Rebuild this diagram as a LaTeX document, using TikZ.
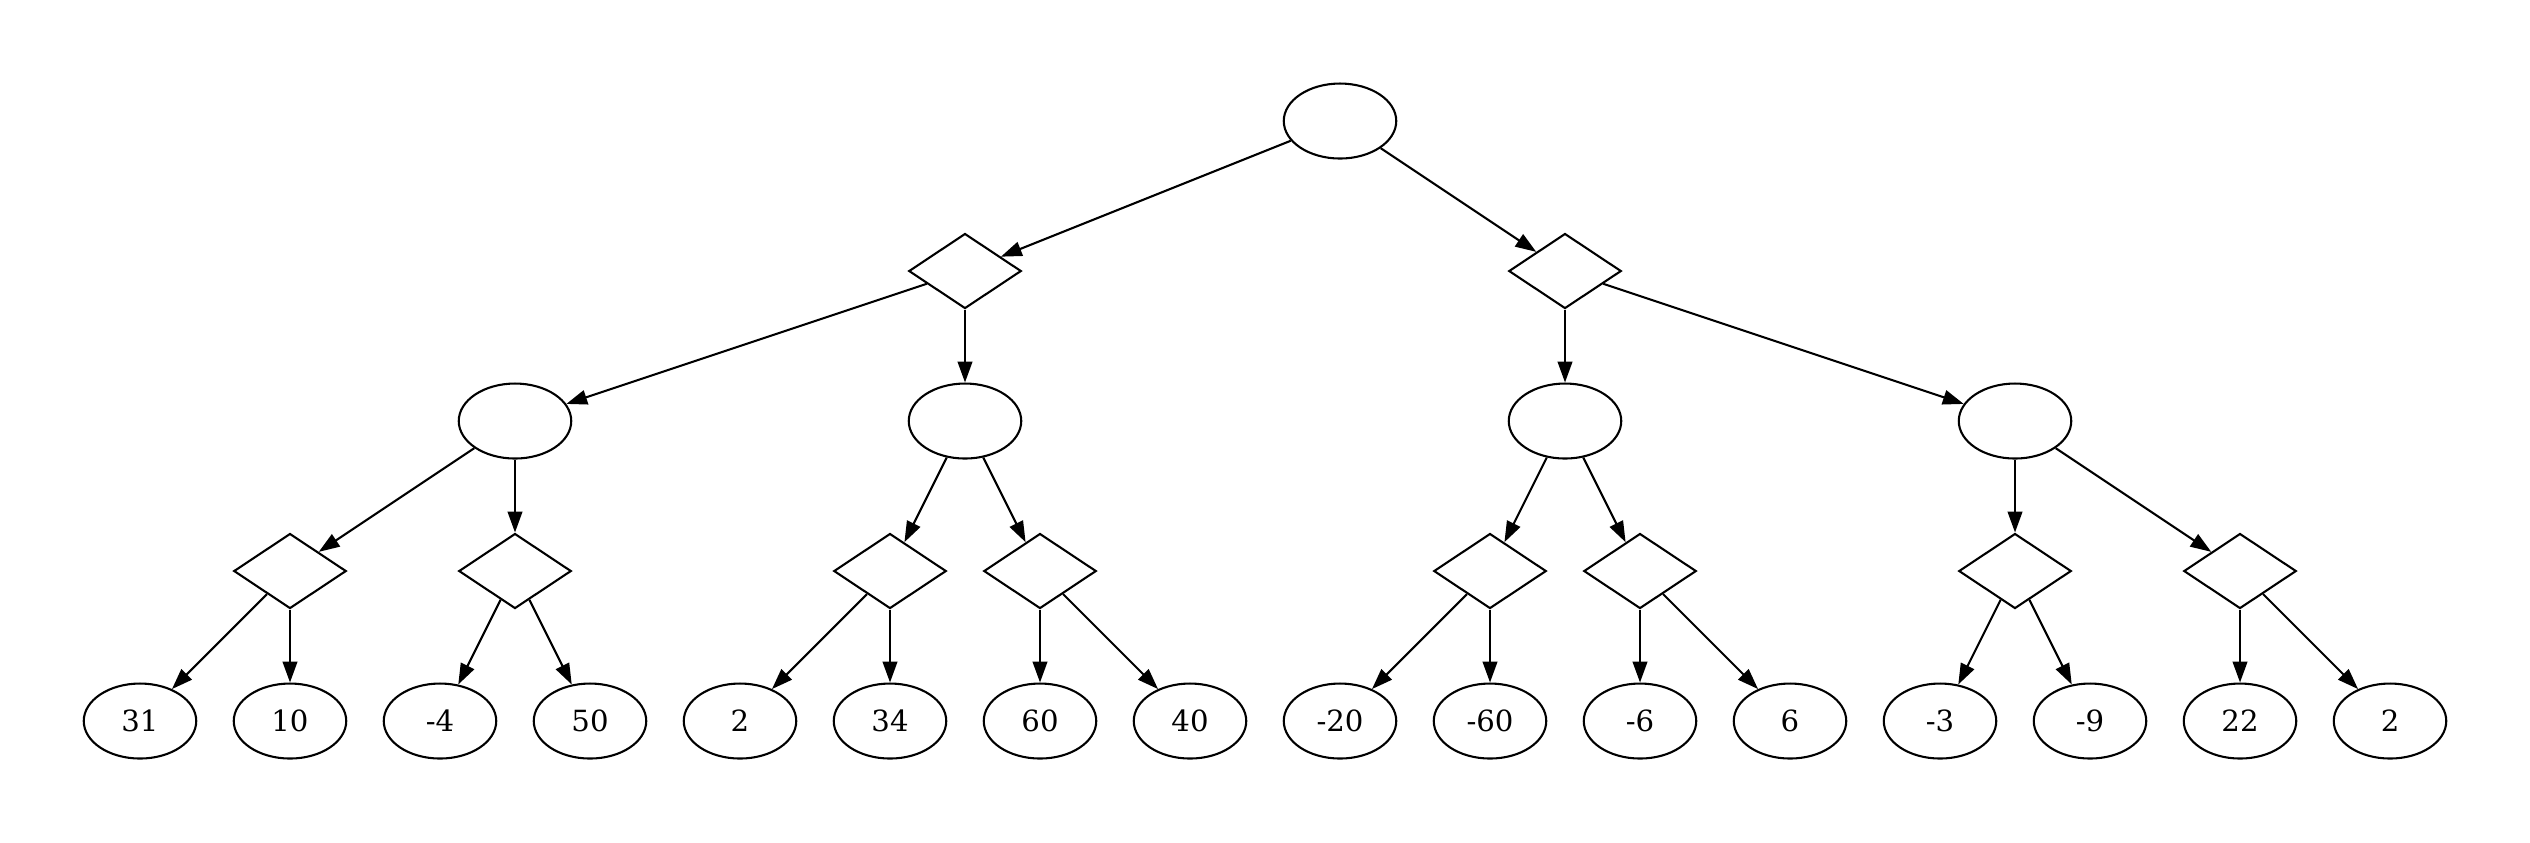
\documentclass[tikz,border=0pt]{standalone}
\usepackage{fontspec}
\setmainfont{DejaVu Serif}
\usetikzlibrary{shapes.geometric,arrows.meta}
\tikzset{
  ell/.style={draw,ellipse,line width=1pt,inner sep=0pt,minimum width=54pt,minimum height=36pt,font=\fontsize{14pt}{16pt}\selectfont},
  dia/.style={draw,diamond,line width=1pt,inner sep=0pt,minimum width=54pt,minimum height=36pt},
  edge/.style={line width=1pt,-{Triangle[length=10pt,width=7pt]}}
}
\begin{document}
\begin{tikzpicture}
\useasboundingbox (0pt,0pt) rectangle (1214.4pt,404.2pt);
% root
\node[ell] (r) at (643.2pt,346.1pt) {};
% level 1
\node[dia] (a) at (463.2pt,274.1pt) {};
\node[dia] (b) at (751.2pt,274.1pt) {};
% level 2
\node[ell] (c1) at (247.2pt,202.1pt) {};
\node[ell] (c2) at (463.2pt,202.1pt) {};
\node[ell] (c3) at (751.2pt,202.1pt) {};
\node[ell] (c4) at (967.2pt,202.1pt) {};
% level 3
\node[dia] (d1) at (139.2pt,130.1pt) {};
\node[dia] (d2) at (247.2pt,130.1pt) {};
\node[dia] (d3) at (427.2pt,130.1pt) {};
\node[dia] (d4) at (499.2pt,130.1pt) {};
\node[dia] (d5) at (715.2pt,130.1pt) {};
\node[dia] (d6) at (787.2pt,130.1pt) {};
\node[dia] (d7) at (967.2pt,130.1pt) {};
\node[dia] (d8) at (1075.2pt,130.1pt) {};
% leaves
\node[ell] (l0) at (67.2pt,58.1pt) {31};
\node[ell] (l1) at (139.2pt,58.1pt) {10};
\node[ell] (l2) at (211.2pt,58.1pt) {-4};
\node[ell] (l3) at (283.2pt,58.1pt) {50};
\node[ell] (l4) at (355.2pt,58.1pt) {2};
\node[ell] (l5) at (427.2pt,58.1pt) {34};
\node[ell] (l6) at (499.2pt,58.1pt) {60};
\node[ell] (l7) at (571.2pt,58.1pt) {40};
\node[ell] (l8) at (643.2pt,58.1pt) {-20};
\node[ell] (l9) at (715.2pt,58.1pt) {-60};
\node[ell] (l10) at (787.2pt,58.1pt) {-6};
\node[ell] (l11) at (859.2pt,58.1pt) {6};
\node[ell] (l12) at (931.2pt,58.1pt) {-3};
\node[ell] (l13) at (1003.2pt,58.1pt) {-9};
\node[ell] (l14) at (1075.2pt,58.1pt) {22};
\node[ell] (l15) at (1147.2pt,58.1pt) {2};
% edges
\draw[edge] (r) -- (a);
\draw[edge] (r) -- (b);
\draw[edge] (a) -- (c1);
\draw[edge] (a) -- (c2);
\draw[edge] (b) -- (c3);
\draw[edge] (b) -- (c4);
\draw[edge] (c1) -- (d1);
\draw[edge] (c1) -- (d2);
\draw[edge] (c2) -- (d3);
\draw[edge] (c2) -- (d4);
\draw[edge] (c3) -- (d5);
\draw[edge] (c3) -- (d6);
\draw[edge] (c4) -- (d7);
\draw[edge] (c4) -- (d8);
\draw[edge] (d1) -- (l0);
\draw[edge] (d1) -- (l1);
\draw[edge] (d2) -- (l2);
\draw[edge] (d2) -- (l3);
\draw[edge] (d3) -- (l4);
\draw[edge] (d3) -- (l5);
\draw[edge] (d4) -- (l6);
\draw[edge] (d4) -- (l7);
\draw[edge] (d5) -- (l8);
\draw[edge] (d5) -- (l9);
\draw[edge] (d6) -- (l10);
\draw[edge] (d6) -- (l11);
\draw[edge] (d7) -- (l12);
\draw[edge] (d7) -- (l13);
\draw[edge] (d8) -- (l14);
\draw[edge] (d8) -- (l15);
\end{tikzpicture}
\end{document}
